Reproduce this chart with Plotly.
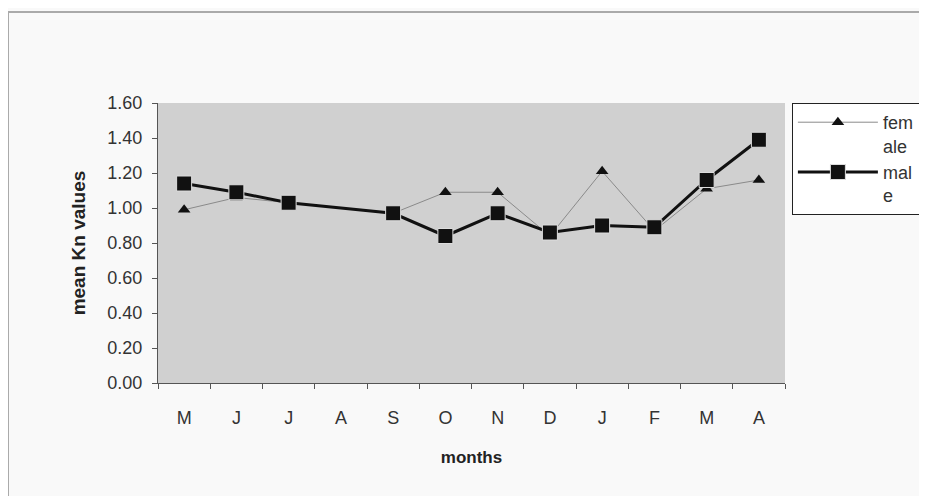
import plotly.graph_objects as go

months = ["M", "J", "J ", "A", "S", "O", "N", "D", "J  ", "F", "M ", "A "]
month_labels = ["M", "J", "J", "A", "S", "O", "N", "D", "J", "F", "M", "A"]
female = [0.99, 1.06, 1.03, None, 0.97, 1.09, 1.09, 0.84, 1.21, 0.87, 1.11, 1.16]
male = [1.14, 1.09, 1.03, None, 0.97, 0.84, 0.97, 0.86, 0.90, 0.89, 1.16, 1.39]
y_ticks = [0, 0.2, 0.4, 0.6, 0.8, 1.0, 1.2, 1.4, 1.6]

fig = go.Figure()
fig.add_trace(go.Scatter(
    x=months, y=female, name="fem<br>ale", mode="lines+markers",
    connectgaps=True,
    line=dict(color="#8a8a8a", width=1),
    marker=dict(symbol="triangle-up", size=11, color="#111111"),
))
fig.add_trace(go.Scatter(
    x=months, y=male, name="mal<br>e", mode="lines+markers",
    connectgaps=True,
    line=dict(color="#111111", width=3),
    marker=dict(symbol="square", size=15, color="#111111",
                line=dict(color="#dddddd", width=1)),
))

font_family = "Liberation Sans, Arial, sans-serif"
fig.update_layout(
    width=927, height=496,
    margin=dict(l=150, r=150, t=95, b=121),
    paper_bgcolor="#f9f9f9",
    plot_bgcolor="#d0d0d0",
    font=dict(family=font_family, size=18, color="#333333"),
    showlegend=True,
    legend=dict(
        x=1.011, y=1.0, xanchor="left", yanchor="top",
        bgcolor="#ffffff", bordercolor="#222222", borderwidth=1,
        font=dict(family=font_family, size=18, color="#333333"),
        tracegroupgap=12, itemwidth=80, valign="top",
    ),
    xaxis=dict(
        type="category", range=[-0.5, 11.5],
        tickmode="array", tickvals=months, ticktext=month_labels,
        tickson="boundaries", ticks="outside", ticklen=5,
        tickcolor="#555555", ticklabelstandoff=18,
        showline=True, linecolor="#555555", linewidth=1,
        showgrid=False, zeroline=False,
        title=dict(text="<b>months</b>", standoff=24,
                   font=dict(size=17, color="#222222")),
        tickfont=dict(size=18, color="#333333"),
    ),
    yaxis=dict(
        range=[0, 1.6],
        tickmode="array", tickvals=y_ticks,
        tickformat=".2f",
        ticks="outside", ticklen=5, tickcolor="#555555",
        ticklabelstandoff=6,
        showline=True, linecolor="#555555", linewidth=1,
        showgrid=False, zeroline=False,
        title=dict(text="<b>mean Kn values</b>", standoff=16,
                   font=dict(size=19, color="#222222")),
        tickfont=dict(size=18, color="#333333"),
    ),
    shapes=[
        dict(type="rect", xref="paper", yref="paper",
             x0=-150 / 627, x1=1.3, y0=-0.45, y1=1 + 91 / 280,
             line=dict(color="#aaaaaa", width=2), fillcolor="rgba(0,0,0,0)",
             layer="below"),
    ],
)

fig.write_html("out.html")
